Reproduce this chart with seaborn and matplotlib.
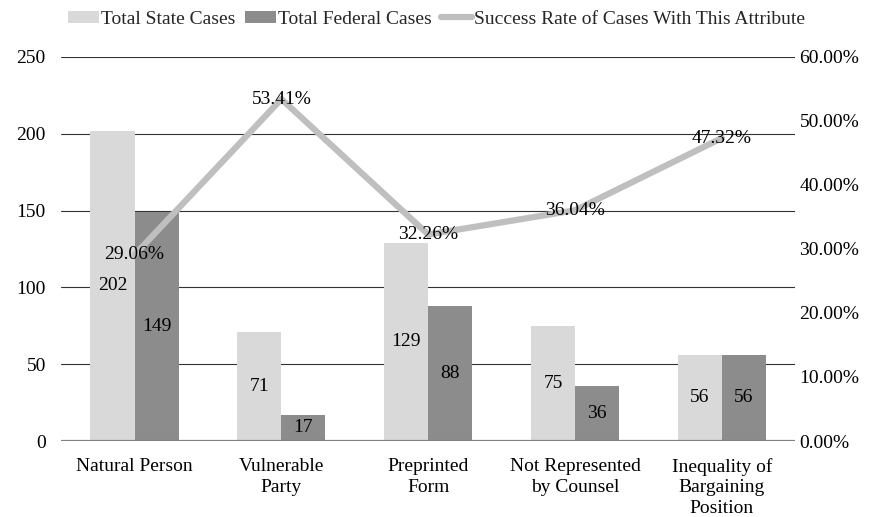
import numpy as np
import pandas as pd
import seaborn as sns
import matplotlib
matplotlib.use('Agg')
from matplotlib import pyplot as plt
from matplotlib.patches import Patch
from matplotlib.lines import Line2D
from matplotlib.ticker import FuncFormatter

# chart data
categories = ['Natural Person', 'Vulnerable\nParty', 'Preprinted\nForm',
              'Not Represented\nby Counsel', 'Inequality of\nBargaining\nPosition']
state_cases = [202, 71, 129, 75, 56]
federal_cases = [149, 17, 88, 36, 56]
success_rate = [29.06, 53.41, 32.26, 36.04, 47.32]
series_names = ['Total State Cases', 'Total Federal Cases',
                'Success Rate of Cases With This Attribute']

light = '#D9D9D9'
dark = '#8C8C8C'
line_col = '#BFBFBF'
fs = 14

sns.set_theme(style='white')
plt.rcParams['font.family'] = ['Liberation Serif', 'DejaVu Serif']
plt.rcParams['font.size'] = fs

df = pd.DataFrame({
    'category': categories * 2,
    'cases': state_cases + federal_cases,
    'series': [series_names[0]] * 5 + [series_names[1]] * 5,
})

fig = plt.figure(figsize=(8.73, 5.17), dpi=100)
ax = fig.add_axes([0.070, 0.147, 0.841, 0.743])

sns.barplot(data=df, x='category', y='cases', hue='series', order=categories,
            hue_order=series_names[:2], palette=[light, dark], width=0.6,
            saturation=1, ax=ax, legend=False, edgecolor='none', linewidth=0)

ax.set_ylim(0, 250)
ax.set_yticks(range(0, 251, 50))
ax.set_xlim(-0.5, 4.5)
ax.set_xticks(range(len(categories)))
ax.set_xticklabels(categories, linespacing=1.3)
ax.set_xlabel('')
ax.set_ylabel('')
ax.yaxis.grid(True, color='#333333', linewidth=0.8)
ax.set_axisbelow(True)
for s in ax.spines.values():
    s.set_visible(False)
ax.axhline(0, color='#808080', linewidth=1.6, zorder=3)
ax.tick_params(axis='both', length=0, labelsize=fs, colors='black')
ax.tick_params(axis='y', pad=11)
ax.tick_params(axis='x', pad=12)

# value labels centered in the bars
for cont in ax.containers:
    ax.bar_label(cont, label_type='center', fontsize=fs, color='black')

ax2 = ax.twinx()
rate_df = pd.DataFrame({'category': categories, 'rate': success_rate})
sns.pointplot(data=rate_df, x='category', y='rate', order=categories,
              color=line_col, markers='', linewidth=4.5, ax=ax2, errorbar=None)
ax2.set_ylim(0, 60)
ax2.set_xlim(-0.5, 4.5)
ax2.set_yticks(range(0, 61, 10))
ax2.yaxis.set_major_formatter(FuncFormatter(lambda v, p: f'{v:.2f}%'))
ax2.set_ylabel('')
ax2.set_xlabel('')
ax2.grid(False)
for s in ax2.spines.values():
    s.set_visible(False)
ax2.tick_params(axis='y', length=0, labelsize=fs, colors='black', pad=3)

for i, r in enumerate(success_rate):
    ax2.text(i, r, f'{r:.2f}%', ha='center', va='center', fontsize=fs, color='black')

handles = [Patch(facecolor=light, edgecolor='none'),
           Patch(facecolor=dark, edgecolor='none'),
           Line2D([0], [0], color=line_col, linewidth=4.5)]
fig.legend(handles, series_names, loc='center', bbox_to_anchor=(0.5, 0.963), ncol=3,
           frameon=False, fontsize=fs, handlelength=1.6, handleheight=0.6,
           handletextpad=0.1, columnspacing=0.5)

fig.savefig('out.png', dpi=100)
